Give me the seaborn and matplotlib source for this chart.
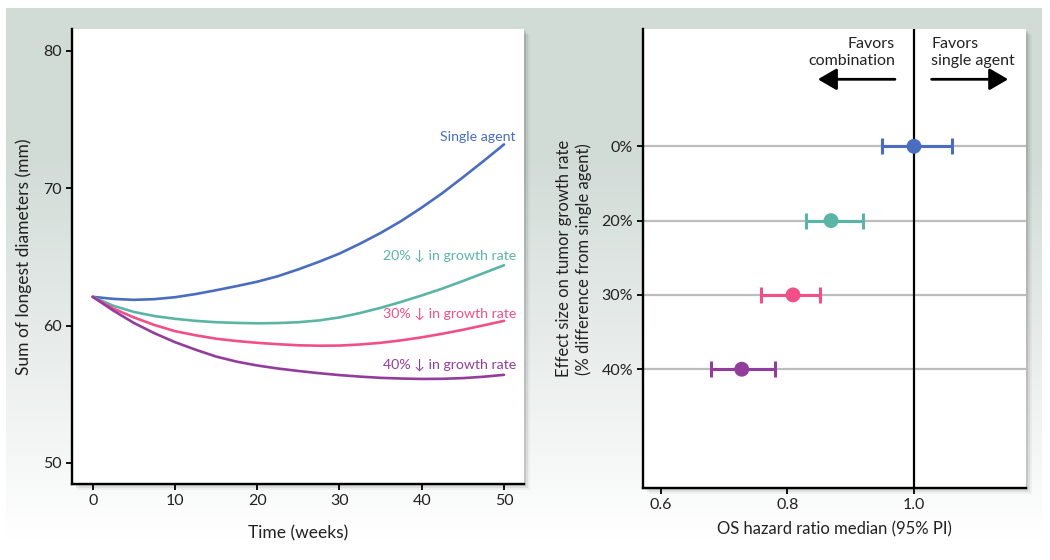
import numpy as np
import pandas as pd
import matplotlib
matplotlib.use('Agg')
import matplotlib.pyplot as plt
from matplotlib.patches import Rectangle
import seaborn as sns

sns.set_theme(style='white')
plt.rcParams['font.family'] = ['Lato', 'DejaVu Sans']

# tumor size curves, read every 2.5 weeks
weeks = [0, 2.5, 5, 7.5, 10, 12.5, 15, 17.5, 20, 22.5, 25,
         27.5, 30, 32.5, 35, 37.5, 40, 42.5, 45, 47.5, 50]
single_agent = [62.1, 61.95, 61.88, 61.93, 62.07, 62.3, 62.58, 62.88, 63.2, 63.6, 64.1,
                64.65, 65.25, 65.97, 66.75, 67.62, 68.6, 69.65, 70.8, 71.98, 73.2]
growth_20 = [62.1, 61.45, 61.0, 60.7, 60.5, 60.35, 60.25, 60.2, 60.17, 60.19, 60.25,
             60.38, 60.6, 60.92, 61.3, 61.73, 62.2, 62.7, 63.25, 63.82, 64.4]
growth_30 = [62.1, 61.25, 60.6, 60.05, 59.6, 59.3, 59.05, 58.88, 58.75, 58.65, 58.57,
             58.54, 58.55, 58.63, 58.75, 58.93, 59.15, 59.41, 59.7, 60.02, 60.35]
growth_40 = [62.1, 61.1, 60.2, 59.45, 58.8, 58.25, 57.75, 57.38, 57.1, 56.88, 56.7,
             56.54, 56.4, 56.29, 56.2, 56.15, 56.12, 56.13, 56.18, 56.28, 56.42]

series_names = ['Single agent', '20% \u2193 in growth rate',
                '30% \u2193 in growth rate', '40% \u2193 in growth rate']
label_y = [73.75, 65.1, 60.85, 57.15]
colors = ['#4a6dbf', '#5bb5a6', '#f04f88', '#923d9b']

# hazard ratio panel
effect_labels = ['0%', '20%', '30%', '40%']
hr_median = [1.0, 0.869, 0.809, 0.728]
hr_low = [0.949, 0.829, 0.759, 0.679]
hr_high = [1.06, 0.92, 0.851, 0.780]

text_col = '#222222'

curves = pd.DataFrame({
    'week': weeks * 4,
    'size': single_agent + growth_20 + growth_30 + growth_40,
    'group': sum([[n] * len(weeks) for n in series_names], []),
})

fig = plt.figure(figsize=(10.5, 5.6), dpi=100)

# background: grey panel fading to white
bg = fig.add_axes([0, 0, 1, 1], zorder=-10)
bg.set_xlim(0, 1050)
bg.set_ylim(560, 0)
bg.axis('off')
yy = np.linspace(0, 560, 281)
fade = np.clip((540 - yy) / 380, 0, 1)[:, None]
top_rgb = np.array([0.827, 0.863, 0.847])
grad = 1 - fade[..., None] * (1 - top_rgb)[None, None, :]
grad = np.repeat(grad, 2, axis=1)
bg.imshow(grad, extent=(6, 1042, 560, 8), aspect='auto', interpolation='bilinear')

ax1 = fig.add_axes([0.0683, 0.1357, 0.431, 0.8125])
ax2 = fig.add_axes([0.6121, 0.128, 0.365, 0.8197])

# soft shadow behind both white boxes
for ax in (ax1, ax2):
    pos = ax.get_position()
    for i, a in enumerate([0.10, 0.07, 0.04]):
        off = (i + 1) * 2.0
        bg.add_patch(Rectangle((pos.x0 * 1050 + off, (1 - pos.y1) * 560 + off),
                               pos.width * 1050, pos.height * 560,
                               facecolor='black', alpha=a, lw=0))

# left panel
sns.lineplot(data=curves, x='week', y='size', hue='group', palette=colors,
             hue_order=series_names, lw=1.9, legend=False, ax=ax1)
for name, yv, c in zip(series_names, label_y, colors):
    ax1.text(51.45, yv, name, color=c, fontsize=10.2, ha='right', va='center',
             family=['Lato', 'DejaVu Sans'])
ax1.set_xlim(-2.55, 52.46)
ax1.set_ylim(48.47, 81.6)
ax1.set_xticks([0, 10, 20, 30, 40, 50])
ax1.set_yticks([50, 60, 70, 80])
ax1.set_xlabel('Time (weeks)', fontsize=12.5, color=text_col, labelpad=13)
ax1.set_ylabel('Sum of longest diameters (mm)', fontsize=12.5, color=text_col, labelpad=8)

# right panel
pos_y = np.arange(len(effect_labels))
for i in range(len(effect_labels)):
    ax2.errorbar(hr_median[i], pos_y[i],
                 xerr=[[hr_median[i] - hr_low[i]], [hr_high[i] - hr_median[i]]],
                 fmt='none', ecolor=colors[i], elinewidth=2.2, capsize=5.5,
                 capthick=2.2, zorder=3)
sns.scatterplot(x=hr_median, y=pos_y, hue=effect_labels, palette=colors,
                s=115, edgecolor='none', legend=False, zorder=4, ax=ax2)
ax2.axvline(1.0, color='black', lw=1.6, zorder=2)
ax2.set_yticks(pos_y)
ax2.set_yticklabels(effect_labels)
ax2.grid(axis='y', color='#bdbdbd', lw=1.6, zorder=1)
ax2.set_xticks([0.6, 0.8, 1.0])
ax2.set_xticklabels(['0.6', '0.8', '1.0'])
ax2.set_xlim(0.5716, 1.1768)
ax2.set_ylim(4.603, -1.575)
ax2.set_xlabel('OS hazard ratio median (95% PI)', fontsize=12, color=text_col, labelpad=7)
ax2.set_ylabel('Effect size on tumor growth rate\n(% difference from single agent)',
               fontsize=12, color=text_col, labelpad=7, linespacing=1.2)

ax2.text(0.970, -1.265, 'Favors\ncombination', ha='right', va='center',
         fontsize=11.5, color=text_col, linespacing=1.3)
ax2.text(1.027, -1.265, 'Favors\nsingle agent', ha='left', va='center',
         fontsize=11.5, color=text_col, linespacing=1.3)
arrow_style = dict(arrowstyle='-|>,head_length=0.6,head_width=0.35', lw=2,
                   color='black', mutation_scale=19, shrinkA=0, shrinkB=0)
ax2.annotate('', xy=(0.8483, -0.902), xytext=(0.9699, -0.902), arrowprops=arrow_style)
ax2.annotate('', xy=(1.1487, -0.902), xytext=(1.0278, -0.902), arrowprops=arrow_style)

for ax in (ax1, ax2):
    ax.set_facecolor('white')
    for side in ('top', 'right'):
        ax.spines[side].set_visible(False)
    for side in ('left', 'bottom'):
        ax.spines[side].set_color('black')
        ax.spines[side].set_linewidth(1.7)
    ax.tick_params(direction='out', length=4, width=1.3, color='black',
                   labelsize=11.5, labelcolor=text_col, pad=3,
                   left=True, bottom=True)

fig.savefig('out.png', dpi=100)
